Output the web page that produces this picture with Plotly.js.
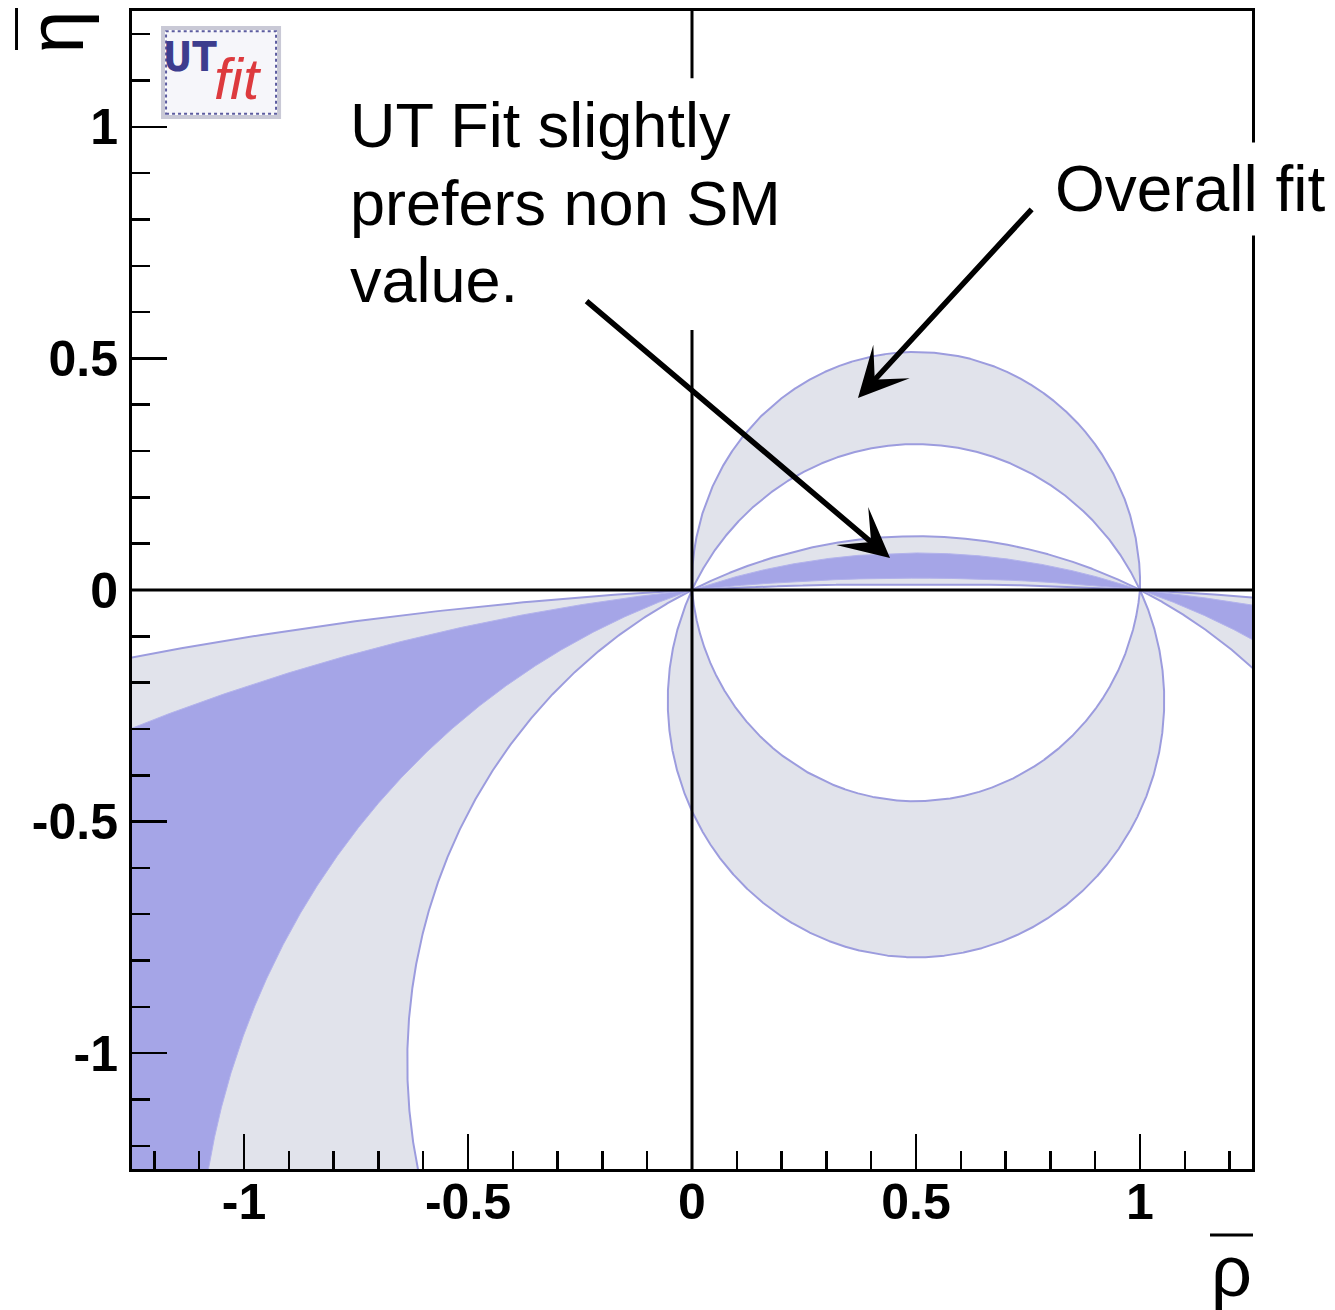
<!DOCTYPE html>
<html>
<head>
<meta charset="utf-8">
<script src="https://cdn.plot.ly/plotly-3.0.1.min.js"></script>
<style>html,body{margin:0;padding:0;background:#fff;}</style>
</head>
<body>
<div id="chart" style="width:1335px;height:1310px;"></div>
<script>
// ---- data ----
// every constraint boundary is a circle through (0,0) and (1,0); it is given by
// the height of its apex above (or below) the point (0.5, 0)
const chordEnds = [0, 1];
const alphaUpperApex = [0.514, 0.315];   // outer / inner arc of the upper alpha band
const alphaLowerApex = [-0.793, -0.456]; // outer / inner arc of the lower alpha band
const fitLightApex = [0.116, 0.0128];    // overall fit, 95% region
const fitDarkApex = [0.080, 0.0256];     // overall fit, 68% region
const tickVals = [-1, -0.5, 0, 0.5, 1];
const tickText = ['-1', '-0.5', '0', '0.5', '1'];
const textLines = ['UT Fit slightly', 'prefers non SM', 'value.'];
const overallText = 'Overall fit';

// ---- geometry helpers ----
const mid = (chordEnds[0] + chordEnds[1]) / 2;
const half = (chordEnds[1] - chordEnds[0]) / 2;
function centreFromApex(h) { return (h * h - half * half) / (2 * h); }
const LIM = 1.6;
function clamp(v) { return Math.max(-LIM, Math.min(LIM, v)); }
function arc(h, upper, n) {
  const c = centreFromApex(h);
  const r = Math.sqrt(half * half + c * c);
  let s = Math.atan2(-c, chordEnds[0] - mid);
  let e = Math.atan2(-c, chordEnds[1] - mid);
  if (s < Math.PI / 2) s += 2 * Math.PI;
  if (!upper) e += 2 * Math.PI;
  const xs = [], ys = [];
  for (let i = 0; i <= n; i++) {
    const t = s + (e - s) * i / n;
    xs.push(clamp(mid + r * Math.cos(t)));
    ys.push(clamp(c + r * Math.sin(t)));
  }
  return {x: xs, y: ys};
}
function band(hOuter, hInner, upper) {
  const n = 4000;
  const a = arc(hOuter, upper, n), b = arc(hInner, upper, n);
  return {
    x: a.x.concat(b.x.slice().reverse()),
    y: a.y.concat(b.y.slice().reverse())
  };
}

const GREY = '#e1e3eb', DARK = '#a5a5e7', EDGE = '#9c9cde';
function poly(p, fill, lineColor, lw) {
  return {type: 'scatter', mode: 'lines', x: p.x, y: p.y, fill: 'toself',
    fillcolor: fill, line: {color: lineColor, width: lw}, hoverinfo: 'skip', showlegend: false};
}

const traces = [
  poly(band(alphaUpperApex[0], alphaUpperApex[1], true), GREY, EDGE, 2),
  poly(band(alphaLowerApex[0], alphaLowerApex[1], false), GREY, EDGE, 2),
  poly(band(fitLightApex[0], fitLightApex[1], true), GREY, EDGE, 2),
  poly(band(fitLightApex[1], fitLightApex[0], false), GREY, EDGE, 2),
  poly(band(fitDarkApex[0], fitDarkApex[1], true), DARK, '#b3b3ec', 1),
  poly(band(fitDarkApex[1], fitDarkApex[0], false), DARK, '#b3b3ec', 1)
];

const FONT = 'Liberation Sans, Arial, Helvetica, sans-serif';
const axisCommon = {
  range: [-1.25, 1.25], tickmode: 'array', tickvals: tickVals, ticktext: tickText,
  ticks: 'inside', ticklen: 35, tickwidth: 2.5, tickcolor: '#000',
  showline: true, linewidth: 3, linecolor: '#000', mirror: true,
  showgrid: false, zeroline: false, fixedrange: true,
  tickfont: {family: FONT, size: 50, color: '#000', weight: 'bold'},
  minor: {tickmode: 'linear', tick0: 0, dtick: 0.1, ticks: 'inside', ticklen: 18,
          tickwidth: 2.5, tickcolor: '#000', showgrid: false}
};

const lineY = [1.0039, 0.8354, 0.6691];
const annotations = textLines.map((t, i) => ({
  xref: 'x', yref: 'y', x: -0.7946, y: lineY[i], xanchor: 'left', yanchor: 'middle',
  text: t, showarrow: false, borderpad: 13,
  font: {family: FONT, size: 63, color: '#000'}
}));
annotations.push({
  xref: 'x', yref: 'y', x: 0.7857, y: 0.8659, xanchor: 'left', yanchor: 'middle',
  text: overallText, showarrow: false, bgcolor: '#ffffff', borderpad: 10,
  font: {family: FONT, size: 64, color: '#000'}
});
// arrows
annotations.push({
  xref: 'x', yref: 'y', axref: 'x', ayref: 'y', x: 0.3705, y: 0.4147, ax: 0.7612, ay: 0.8251,
  text: '', showarrow: true, arrowhead: 3, arrowwidth: 5.5, arrowsize: 1.5, arrowcolor: '#000', standoff: 0
});
annotations.push({
  xref: 'x', yref: 'y', axref: 'x', ayref: 'y', x: 0.442, y: 0.0691, ax: -0.2388, ay: 0.6263,
  text: '', showarrow: true, arrowhead: 3, arrowwidth: 5.5, arrowsize: 1.5, arrowcolor: '#000', standoff: 0
});
// axis titles
annotations.push({
  xref: 'paper', yref: 'paper', x: 0.9813, y: -0.0518, xanchor: 'center', yanchor: 'top',
  text: 'ρ', showarrow: false, font: {family: FONT, size: 72, color: '#000'}
});
annotations.push({
  xref: 'paper', yref: 'paper', x: -0.0685, y: 0.9814, xanchor: 'center', yanchor: 'middle',
  text: 'η', textangle: -90, showarrow: false, font: {family: FONT, size: 78, color: '#000'}
});
// UTfit logo
annotations.push({
  xref: 'paper', yref: 'paper', x: 0.0518, y: 0.9603, xanchor: 'center', yanchor: 'middle',
  text: '<b>UT</b>', showarrow: false,
  font: {family: 'DejaVu Sans Condensed, Liberation Sans Narrow, Liberation Sans, sans-serif', size: 40, color: '#3d3d8e'}
});
annotations.push({
  xref: 'paper', yref: 'paper', x: 0.0946, y: 0.9413, xanchor: 'center', yanchor: 'middle',
  text: '<i>fit</i>', showarrow: false,
  font: {family: 'Liberation Sans, sans-serif', size: 58, color: '#dd3a3e'}
});

const shapes = [
  {type: 'line', xref: 'x', yref: 'y', x0: -1.25, x1: 1.25, y0: 0, y1: 0, layer: 'above',
   line: {color: '#000', width: 3}},
  {type: 'line', xref: 'x', yref: 'y', x0: 0, x1: 0, y0: -1.25, y1: 1.25, layer: 'above',
   line: {color: '#000', width: 3}},
  // white background of the text block
  {type: 'rect', xref: 'paper', yref: 'paper', x0: 0.182, x1: 0.5964, y0: 0.7245, y1: 0.942,
   layer: 'above', fillcolor: '#ffffff', line: {width: 0}},
  // overline bars of the axis titles
  {type: 'line', xref: 'paper', yref: 'paper', x0: 0.9625, x1: 1.0009, y0: -0.057, y1: -0.057,
   line: {color: '#000', width: 3}},
  {type: 'line', xref: 'paper', yref: 'paper', x0: -0.1031, x1: -0.1031, y0: 0.9663, y1: 1.0026,
   line: {color: '#000', width: 3}},
  // logo frame
  {type: 'rect', xref: 'paper', yref: 'paper', x0: 0.0277, x1: 0.1313, y0: 0.9085, y1: 0.9853,
   layer: 'above', fillcolor: 'rgba(0,0,0,0)', line: {color: '#c9c9d6', width: 4}},
  {type: 'rect', xref: 'paper', yref: 'paper', x0: 0.0304, x1: 0.1286, y0: 0.9112, y1: 0.9826,
   layer: 'below', fillcolor: '#f6f6fa', line: {color: '#5c5ca0', width: 2, dash: 'dot'}}
];

const layout = {
  width: 1335, height: 1310,
  margin: {l: 132, r: 83, t: 11, b: 141, pad: 0},
  paper_bgcolor: '#ffffff', plot_bgcolor: '#ffffff',
  showlegend: false,
  xaxis: Object.assign({}, axisCommon, {ticklabelstandoff: -13}),
  yaxis: Object.assign({}, axisCommon, {ticklabelstandoff: 1}),
  annotations: annotations,
  shapes: shapes
};

Plotly.newPlot('chart', traces, layout, {staticPlot: true, displayModeBar: false});
</script>
</body>
</html>
